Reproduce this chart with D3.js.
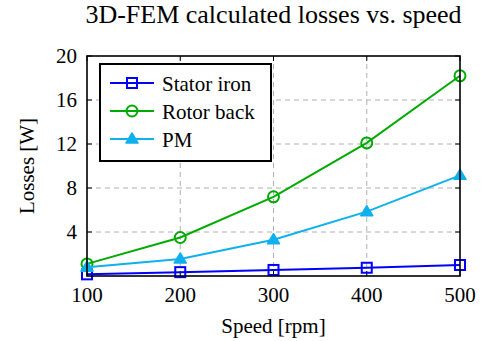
<!DOCTYPE html>
<html>
<head>
<meta charset="utf-8">
<script src="https://cdn.jsdelivr.net/npm/d3@7"></script>
<style>
  body { margin: 0; background: #fff; }
  svg text { font-family: "Liberation Serif", "Times New Roman", serif; fill: #000; }
</style>
</head>
<body>
<div id="chart"></div>
<script>
const speeds = [100, 200, 300, 400, 500];
const statorIron = [0.15, 0.35, 0.55, 0.75, 1.0];
const rotorBack = [1.1, 3.5, 7.2, 12.1, 18.2];
const pm = [0.8, 1.55, 3.3, 5.85, 9.15];
const yTicks = [4, 8, 12, 16, 20];
const seriesNames = ["Stator iron", "Rotor back", "PM"];

const width = 483, height = 341;
const margin = { left: 87, right: 23, top: 56, bottom: 65 };

const svg = d3.select("#chart").append("svg")
    .attr("width", width)
    .attr("height", height);

const x = d3.scaleLinear().domain([100, 500]).range([margin.left, width - margin.right]);
const y = d3.scaleLinear().domain([0, 20]).range([height - margin.bottom, margin.top]);

// grid
const grid = svg.append("g")
    .attr("stroke", "#b0b0b0")
    .attr("stroke-width", 1)
    .attr("stroke-dasharray", "5,4");
grid.selectAll(".gx").data(speeds.slice(1, -1)).enter().append("line")
    .attr("x1", d => x(d)).attr("x2", d => x(d))
    .attr("y1", y(0)).attr("y2", y(20));
grid.selectAll(".gy").data(yTicks.slice(0, -1)).enter().append("line")
    .attr("x1", x(100)).attr("x2", x(500))
    .attr("y1", d => y(d)).attr("y2", d => y(d));

// inner tick marks on all four sides
const ticks = svg.append("g").attr("stroke", "#000").attr("stroke-width", 1);
speeds.forEach(s => {
    ticks.append("line").attr("x1", x(s)).attr("x2", x(s)).attr("y1", y(0)).attr("y2", y(0) - 5);
    ticks.append("line").attr("x1", x(s)).attr("x2", x(s)).attr("y1", y(20)).attr("y2", y(20) + 5);
});
yTicks.forEach(t => {
    ticks.append("line").attr("x1", x(100)).attr("x2", x(100) + 5).attr("y1", y(t)).attr("y2", y(t));
    ticks.append("line").attr("x1", x(500)).attr("x2", x(500) - 5).attr("y1", y(t)).attr("y2", y(t));
});

// tick labels
svg.append("g").selectAll("text").data(speeds).enter().append("text")
    .attr("x", d => x(d)).attr("y", y(0) + 26)
    .attr("text-anchor", "middle")
    .style("font-size", "21px")
    .text(d => d);
svg.append("g").selectAll("text").data(yTicks).enter().append("text")
    .attr("x", x(100) - 10).attr("y", d => y(d) + 7)
    .attr("text-anchor", "end")
    .style("font-size", "21px")
    .text(d => d);

// series
const series = [
    { name: seriesNames[0], values: statorIron, color: "#0000ff", marker: "square" },
    { name: seriesNames[1], values: rotorBack, color: "#00aa00", marker: "circle" },
    { name: seriesNames[2], values: pm, color: "#0fb0ee", marker: "triangle" }
];

const line = d3.line().x((d, i) => x(speeds[i])).y(d => y(d));

function drawMarker(g, type, cx, cy, color) {
    if (type === "square") {
        g.append("rect").attr("x", cx - 5).attr("y", cy - 5).attr("width", 10).attr("height", 10)
            .attr("fill", "none").attr("stroke", color).attr("stroke-width", 2);
    } else if (type === "circle") {
        g.append("circle").attr("cx", cx).attr("cy", cy).attr("r", 5.5)
            .attr("fill", "none").attr("stroke", color).attr("stroke-width", 2);
    } else {
        g.append("path")
            .attr("d", `M${cx},${cy - 6}L${cx + 6},${cy + 4}L${cx - 6},${cy + 4}Z`)
            .attr("fill", color).attr("stroke", color).attr("stroke-width", 1.5)
            .attr("stroke-linejoin", "round");
    }
}

series.forEach(s => {
    const g = svg.append("g");
    g.append("path").datum(s.values)
        .attr("d", line)
        .attr("fill", "none")
        .attr("stroke", s.color)
        .attr("stroke-width", 2);
    s.values.forEach((v, i) => drawMarker(g, s.marker, x(speeds[i]), y(v), s.color));
});

// frame
svg.append("rect")
    .attr("x", x(100)).attr("y", y(20))
    .attr("width", x(500) - x(100)).attr("height", y(0) - y(20))
    .attr("fill", "none").attr("stroke", "#000").attr("stroke-width", 1.6);

// legend
const legend = svg.append("g");
legend.append("rect")
    .attr("x", 100).attr("y", 64).attr("width", 171).attr("height", 97)
    .attr("fill", "#fff").attr("stroke", "#000").attr("stroke-width", 2);
series.forEach((s, i) => {
    const ly = 83 + i * 28;
    legend.append("line").attr("x1", 110).attr("x2", 154).attr("y1", ly).attr("y2", ly)
        .attr("stroke", s.color).attr("stroke-width", 2);
    drawMarker(legend, s.marker, 132, ly, s.color);
    legend.append("text").attr("x", 162).attr("y", ly + 8)
        .style("font-size", "21px")
        .text(s.name);
});

// titles
svg.append("text")
    .attr("x", (x(100) + x(500)) / 2).attr("y", 23)
    .attr("text-anchor", "middle")
    .style("font-size", "26px")
    .text("3D-FEM calculated losses vs. speed");
svg.append("text")
    .attr("x", (x(100) + x(500)) / 2).attr("y", 333)
    .attr("text-anchor", "middle")
    .style("font-size", "21px")
    .text("Speed [rpm]");
svg.append("text")
    .attr("transform", `translate(34,${(y(0) + y(20)) / 2}) rotate(-90)`)
    .attr("text-anchor", "middle")
    .style("font-size", "21px")
    .text("Losses [W]");
</script>
</body>
</html>
